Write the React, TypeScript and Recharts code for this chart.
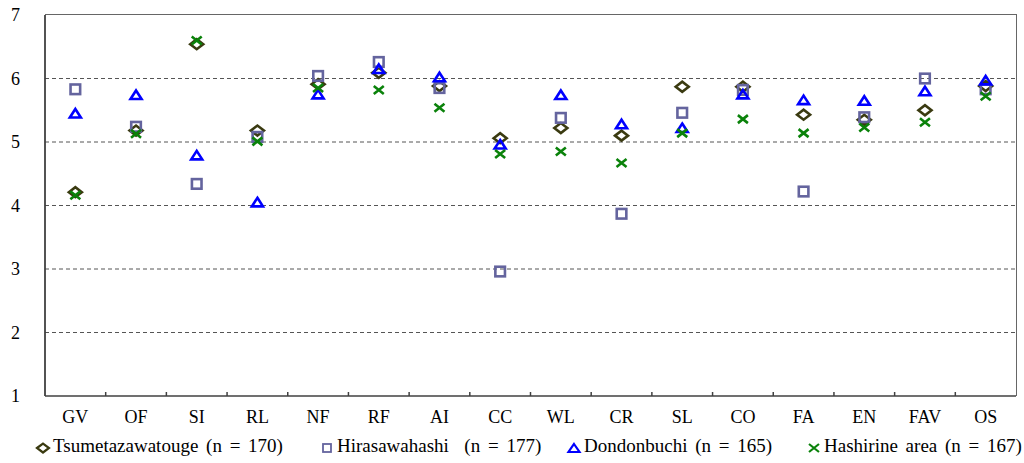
import React from "react";
import {
  ComposedChart,
  Scatter,
  XAxis,
  YAxis,
  CartesianGrid,
} from "recharts";

const categories = ["GV", "OF", "SI", "RL", "NF", "RF", "AI", "CC", "WL", "CR", "SL", "CO", "FA", "EN", "FAV", "OS"];

const tsumetazawatouge = [4.21, 5.18, 6.54, 5.18, 5.91, 6.09, 5.88, 5.06, 5.22, 5.1, 5.87, 5.87, 5.43, 5.35, 5.5, 5.88];
const hirasawahashi = [5.83, 5.24, 4.34, 5.08, 6.04, 6.26, 5.85, 2.96, 5.38, 3.87, 5.46, 5.82, 4.22, 5.39, 6.0, 5.83];
const dondonbuchi = [5.45, 5.74, 4.79, 4.05, 5.75, 6.15, 6.02, 4.96, 5.74, 5.28, 5.22, 5.75, 5.66, 5.65, 5.8, 5.97];
const hashirine = [4.16, 5.13, 6.6, 5.01, 5.85, 5.82, 5.54, 4.81, 4.85, 4.67, 5.14, 5.36, 5.14, 5.23, 5.31, 5.72];

const yTicks = [1, 2, 3, 4, 5, 6, 7];
const gridValues = [2, 3, 4, 5, 6];

const legendItems = [
  { key: "d", label: "Tsumetazawatouge (n = 170)", left: 35 },
  { key: "s", label: "Hirasawahashi  (n = 177)", left: 319 },
  { key: "t", label: "Dondonbuchi (n = 165)", left: 566 },
  { key: "x", label: "Hashirine area (n = 167)", left: 806 },
];

const W = 1024;
const H = 463;
const M_TOP = 15;
const M_RIGHT = 8;
const Y_W = 45;
const X_H = 67;
const PLOT_W = W - Y_W - M_RIGHT;
const PLOT_H = H - M_TOP - X_H;
const TICK_GAP = 14;

const FONT = "'Liberation Serif', 'Times New Roman', serif";
const C_DIAMOND = "#3a3a10";
const C_SQUARE = "#64649e";
const C_TRI = "#0000ff";
const C_CROSS = "#0a820a";

const rows = categories.map((c, i) => ({
  cat: c,
  tsume: tsumetazawatouge[i],
  hira: hirasawahashi[i],
  dondon: dondonbuchi[i],
  hashi: hashirine[i],
}));

function Diamond(p: any) {
  const { cx, cy } = p;
  return (
    <path
      d={`M${cx - 6.5},${cy} L${cx},${cy - 5} L${cx + 6.5},${cy} L${cx},${cy + 5} Z`}
      fill="none"
      stroke={C_DIAMOND}
      strokeWidth={2.6}
    />
  );
}

function Square(p: any) {
  const { cx, cy } = p;
  return <rect x={cx - 4.8} y={cy - 4.8} width={9.6} height={9.6} fill="none" stroke={C_SQUARE} strokeWidth={2.6} />;
}

function Triangle(p: any) {
  const { cx, cy } = p;
  return (
    <path
      d={`M${cx},${cy - 4.5} L${cx + 5.5},${cy + 4} L${cx - 5.5},${cy + 4} Z`}
      fill="none"
      stroke={C_TRI}
      strokeWidth={2.6}
    />
  );
}

function Cross(p: any) {
  const { cx, cy } = p;
  return (
    <path
      d={`M${cx - 5},${cy - 4} L${cx + 5},${cy + 4} M${cx - 5},${cy + 4} L${cx + 5},${cy - 4}`}
      stroke={C_CROSS}
      strokeWidth={2.6}
    />
  );
}

// category label, plus the short upward tick at the left edge of its band
function CatTick(p: any) {
  const { x, y, payload, index } = p;
  const half = PLOT_W / categories.length / 2;
  const axisY = y - TICK_GAP;
  return (
    <g>
      {index > 0 && (
        <line x1={x - half} x2={x - half} y1={axisY} y2={axisY - 4} stroke="#404040" strokeWidth={1.5} />
      )}
      <text x={x} y={y} dy="0.71em" textAnchor="middle" fontFamily={FONT} fontSize={18} fill="#000">
        {payload.value}
      </text>
    </g>
  );
}

function LegendMark({ kind }: { kind: string }) {
  return (
    <svg width={16} height={16} style={{ verticalAlign: "middle", marginRight: 2 }}>
      {kind === "d" && (
        <path d="M2,8 L8,3.5 L14,8 L8,12.5 Z" fill="none" stroke={C_DIAMOND} strokeWidth={2.2} />
      )}
      {kind === "s" && <rect x={4} y={4} width={8} height={8} fill="none" stroke={C_SQUARE} strokeWidth={1.8} />}
      {kind === "t" && <path d="M8,4 L13.5,12 L2.5,12 Z" fill="none" stroke={C_TRI} strokeWidth={2.2} />}
      {kind === "x" && <path d="M3,4 L13,12 M3,12 L13,4" stroke={C_CROSS} strokeWidth={2.2} />}
    </svg>
  );
}

export default function App() {
  return (
    <div style={{ position: "absolute", left: 0, top: 0, width: W, height: H, background: "#fff" }}>
      <ComposedChart width={W} height={H} data={rows} margin={{ top: M_TOP, right: M_RIGHT, left: 0, bottom: 0 }}>
        <CartesianGrid horizontal vertical={false} horizontalValues={gridValues} stroke="#555" strokeDasharray="4 3" />
        <XAxis
          dataKey="cat"
          type="category"
          scale="band"
          height={X_H}
          tickLine={false}
          tickSize={0}
          tickMargin={TICK_GAP}
          interval={0}
          tick={<CatTick />}
          axisLine={{ stroke: "#404040", strokeWidth: 1.5 }}
        />
        <YAxis
          domain={[1, 7]}
          ticks={yTicks}
          width={Y_W}
          tickLine={false}
          tickSize={0}
          tickMargin={25}
          axisLine={{ stroke: "#404040", strokeWidth: 1.8 }}
          tick={{ fontFamily: FONT, fontSize: 18, fill: "#000" }}
        />
        <Scatter dataKey="tsume" shape={<Diamond />} isAnimationActive={false} />
        <Scatter dataKey="hira" shape={<Square />} isAnimationActive={false} />
        <Scatter dataKey="dondon" shape={<Triangle />} isAnimationActive={false} />
        <Scatter dataKey="hashi" shape={<Cross />} isAnimationActive={false} />
      </ComposedChart>
      {/* top and right edges of the plot frame */}
      <div
        style={{
          position: "absolute",
          left: Y_W,
          top: M_TOP - 1,
          width: PLOT_W + 1,
          height: PLOT_H + 1,
          borderTop: "1.5px solid #666",
          borderRight: "1.5px solid #666",
          boxSizing: "border-box",
          pointerEvents: "none",
        }}
      />
      <div style={{ position: "absolute", top: 435, left: 0, width: W, height: 24, fontFamily: FONT, fontSize: 19 }}>
        {legendItems.map((it) => (
          <span
            key={it.key}
            style={{ position: "absolute", left: it.left, whiteSpace: "pre", wordSpacing: 3, lineHeight: "22px" }}
          >
            <LegendMark kind={it.key} />
            {it.label}
          </span>
        ))}
      </div>
    </div>
  );
}
